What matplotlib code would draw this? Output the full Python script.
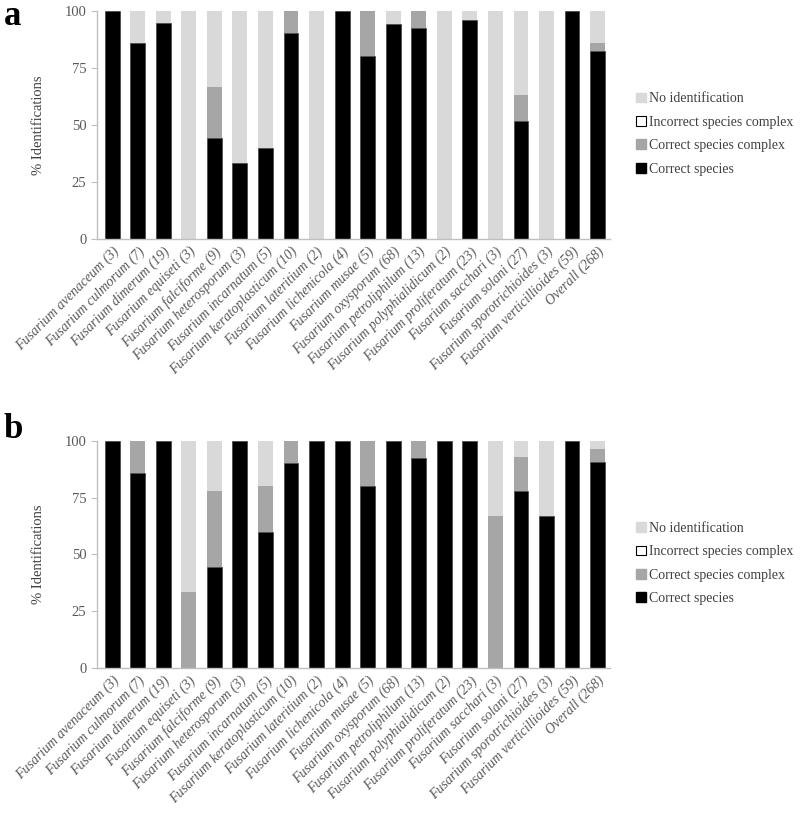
import matplotlib
matplotlib.use("Agg")
import matplotlib.pyplot as plt
import numpy as np
from matplotlib.patches import Patch

plt.rcParams['font.family'] = ['Liberation Serif', 'DejaVu Serif']

species = ["avenaceum (3)", "culmorum (7)", "dimerum (19)", "equiseti (3)",
           "falciforme (9)", "heterosporum (3)", "incarnatum (5)",
           "keratoplasticum (10)", "lateritium (2)", "lichenicola (4)",
           "musae (5)", "oxysporum (68)", "petroliphilum (13)",
           "polyphialidicum (2)", "proliferatum (23)", "sacchari (3)",
           "solani (27)", "sporotrichioides (3)", "verticillioides (59)"]
labels = ["Fusarium " + s for s in species] + ["Overall (268)"]

# panel a
a_correct = [100, 85.7, 94.7, 0, 44.4, 33.3, 40, 90, 0, 100,
             80, 94.1, 92.3, 0, 95.7, 0, 51.9, 0, 100, 82.5]
a_complex = [0, 0, 0, 0, 22.2, 0, 0, 10, 0, 0,
             20, 0, 7.7, 0, 0, 0, 11.1, 0, 0, 3.4]
a_incorrect = [0] * 20
a_noid = [0, 14.3, 5.3, 100, 33.4, 66.7, 60, 0, 100, 0,
          0, 5.9, 0, 100, 4.3, 100, 37.0, 100, 0, 14.1]

# panel b
b_correct = [100, 85.7, 100, 0, 44.4, 100, 60, 90, 100, 100,
             80, 100, 92.3, 100, 100, 0, 77.8, 66.7, 100, 90.5]
b_complex = [0, 14.3, 0, 33.3, 33.4, 0, 20, 10, 0, 0,
             20, 0, 7.7, 0, 0, 66.7, 14.8, 0, 0, 5.7]
b_incorrect = [0] * 20
b_noid = [0, 0, 0, 66.7, 22.2, 0, 20, 0, 0, 0,
          0, 0, 0, 0, 0, 33.3, 7.4, 33.3, 0, 3.8]

c_black = "#000000"
c_gray = "#a6a6a6"
c_light = "#d9d9d9"
txt = "#595959"

fig = plt.figure(figsize=(8, 8.16), dpi=100)
ax_a = fig.add_axes([0.121, 0.707, 0.642, 0.28])
ax_b = fig.add_axes([0.121, 0.181, 0.642, 0.279])


def draw(ax, correct, complex_, incorrect, noid):
    x = np.arange(len(labels))
    w = 0.58
    correct = np.array(correct)
    complex_ = np.array(complex_)
    incorrect = np.array(incorrect)
    noid = np.array(noid)
    ax.bar(x, correct, w, color=c_black, edgecolor="#404040", linewidth=0.5)
    ax.bar(x, complex_, w, bottom=correct, color=c_gray, linewidth=0)
    ax.bar(x, incorrect, w, bottom=correct + complex_, color="white",
           edgecolor="black", linewidth=0)
    ax.bar(x, noid, w, bottom=correct + complex_ + incorrect,
           color=c_light, linewidth=0)
    ax.set_xlim(-0.6, 19.5)
    ax.set_ylim(0, 100)
    ax.set_yticks([0, 25, 50, 75, 100])
    ax.set_xticks(x)
    ax.set_xticklabels(labels, rotation=45, ha="right", rotation_mode="anchor",
                       fontsize=10, style="italic", color=txt)
    ax.tick_params(axis="x", length=0, pad=4)
    ax.tick_params(axis="y", length=4, color="#bfbfbf", labelsize=10.5,
                   labelcolor=txt, direction="out")
    for s in ["top", "right"]:
        ax.spines[s].set_visible(False)
    for s in ["left", "bottom"]:
        ax.spines[s].set_color("#bfbfbf")
        ax.spines[s].set_linewidth(1)
    ax.set_ylabel("% Identifications", fontsize=10.5, color="#404040",
                  labelpad=14)
    handles = [Patch(facecolor=c_light, edgecolor=c_light),
               Patch(facecolor="white", edgecolor="black", linewidth=0.8),
               Patch(facecolor=c_gray, edgecolor=c_gray),
               Patch(facecolor=c_black, edgecolor=c_black)]
    names = ["No identification", "Incorrect species complex",
             "Correct species complex", "Correct species"]
    leg = ax.legend(handles, names, loc="center left",
                    bbox_to_anchor=(1.05, 0.46), frameon=False,
                    fontsize=10, handlelength=0.7, handleheight=0.7,
                    handletextpad=0.25, labelspacing=0.75, borderpad=0,
                    borderaxespad=0)
    for t in leg.get_texts():
        t.set_color("#404040")


draw(ax_a, a_correct, a_complex, a_incorrect, a_noid)
draw(ax_b, b_correct, b_complex, b_incorrect, b_noid)

fig.text(4 / 800, 1 - 25 / 816, "a", fontsize=25, fontweight="bold",
         va="baseline", ha="left")
fig.text(4 / 800, 1 - 438 / 816, "b", fontsize=25, fontweight="bold",
         va="baseline", ha="left")

fig.savefig("out.png", dpi=100)
